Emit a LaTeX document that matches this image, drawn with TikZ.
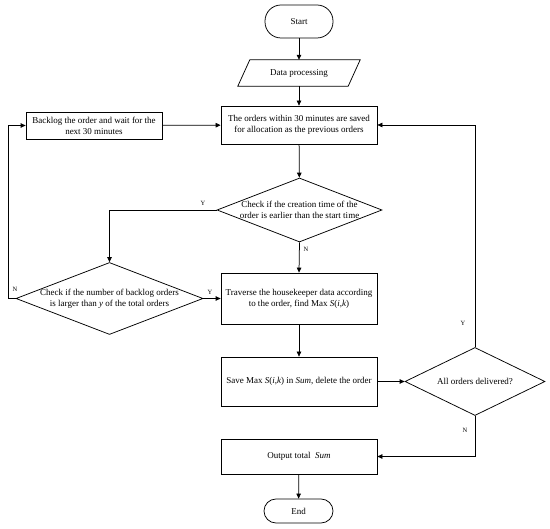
\documentclass[tikz,border=0pt]{standalone}
\usepackage{fontspec}
\setmainfont{Liberation Serif}
\usetikzlibrary{shapes.geometric,arrows.meta,calc}
\begin{document}
\begin{tikzpicture}[x=1pt,y=-1pt,
  every node/.style={font=\fontsize{9}{10.8}\selectfont, inner sep=1pt},
  ln/.style={line width=0.75pt},
  arr/.style={ln, -{Triangle[length=5pt,width=4.5pt]}},
  box/.style={draw, ln, rectangle, align=center, minimum width=156},
  term/.style={draw, ln, rectangle, align=center},
  dia/.style={draw, ln, diamond, inner sep=0pt},
  dtext/.style={align=center},
  lab/.style={font=\fontsize{6.5}{7}\selectfont, inner sep=0pt}]
\useasboundingbox (0,0) rectangle (550,529);

% terminals
\node[term, rounded corners=16pt, minimum width=68, minimum height=33] (start) at (299,21.5) {Start};
\node[term, rounded corners=12pt, minimum width=69, minimum height=24] (end) at (298.5,511) {End};

% data processing (parallelogram)
\node[minimum width=110, minimum height=26, inner sep=0pt] (dp) at (299,73) {Data processing};
\draw[ln] ($(dp.south west)+(-6,0)$) -- ($(dp.north west)+(6,0)$) -- ($(dp.north east)+(6,0)$) -- ($(dp.south east)+(-6,0)$) -- cycle;

% boxes
\node[box, minimum height=38] (orders) at (299,125) {The orders within 30 minutes are saved\\for allocation as the previous orders};
\node[box, minimum width=136, minimum height=27] (backlog) at (94,125.5) {Backlog the order and wait for the\\next 30 minutes};
\node[box, minimum height=51] (trav) at (299,298.5) {Traverse the housekeeper data according\\to the order, find Max \textit{S}(\textit{i},\textit{k})};
\node[box, minimum height=49] (save) at (299,381.5) {Save Max \textit{S}(\textit{i},\textit{k}) in \textit{Sum}, delete the order};
\node[box, minimum height=35] (output) at (299,456.5) {Output total~~\textit{Sum}};

% decisions
\node[dia, minimum width=165, minimum height=64] (d1) at (299.5,210) {};
\node[dtext] (d1t) at (299.5,210) {Check if the creation time of the\\order is earlier than the start time};
\node[dia, minimum width=187, minimum height=72] (d2) at (109.5,298.5) {};
\node[dtext] (d2t) at (109.5,298.5) {Check if the number of backlog orders\\is larger than \textit{y} of the total orders};
\node[dia, minimum width=140, minimum height=68] (d3) at (475,381.5) {};
\node[dtext] (d3t) at (475,381.5) {All orders delivered?};

\coordinate (lft) at (8,298.5);

% connectors
\draw[arr] (start) -- (dp);
\draw[arr] (dp) -- (orders);
\draw[arr] (backlog) -- (orders);
\draw[arr] (orders) -- (d1);
\draw[arr] (d1.west) -| (d2.north);
\draw[arr] (d1.south) -- (trav.north);
\draw[arr] (d2.east) -- (trav.west);
\draw[arr] (d2.west) -- (lft) |- (backlog.west);
\draw[arr] (trav) -- (save);
\draw[arr] (save.east) -- (d3.west);
\draw[arr] (d3.north) |- (orders.east);
\draw[arr] (d3.south) |- (output.east);
\draw[arr] (output) -- (end);

% labels
\node[lab] (ly1) at (203,203.5) {Y};
\node[lab] (ln1) at (306,249.5) {N};
\node[lab] (ln2) at (15,289.5) {N};
\node[lab] (ly2) at (210,292.5) {Y};
\node[lab] (ly3) at (463,323) {Y};
\node[lab] (ln3) at (465,430) {N};
\end{tikzpicture}
\end{document}
